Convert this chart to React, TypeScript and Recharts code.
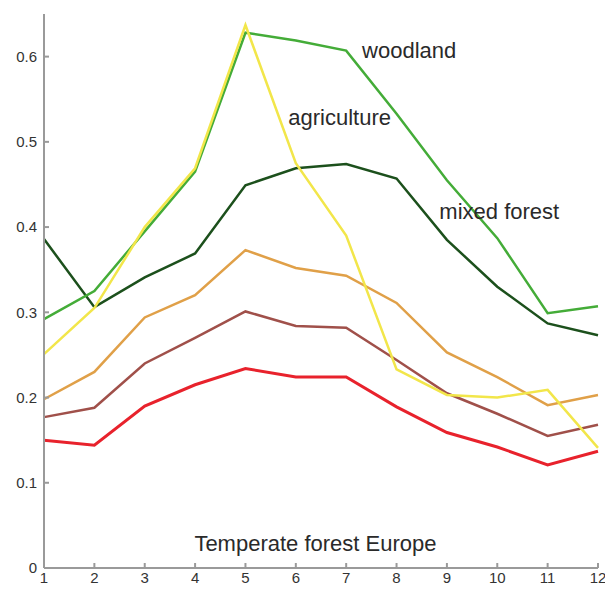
import React from "react";
import { LineChart, Line, XAxis, YAxis, ReferenceDot } from "recharts";

const months = [1, 2, 3, 4, 5, 6, 7, 8, 9, 10, 11, 12];
const woodland = [0.292, 0.325, 0.395, 0.465, 0.628, 0.619, 0.607, 0.533, 0.455, 0.387, 0.299, 0.307];
const agriculture = [0.251, 0.305, 0.4, 0.469, 0.637, 0.475, 0.39, 0.233, 0.203, 0.2, 0.209, 0.141];
const mixedForest = [0.386, 0.306, 0.341, 0.369, 0.449, 0.469, 0.474, 0.457, 0.385, 0.33, 0.287, 0.273];
const orangeSeries = [0.198, 0.23, 0.294, 0.32, 0.373, 0.352, 0.343, 0.311, 0.253, 0.224, 0.191, 0.203];
const brownSeries = [0.177, 0.188, 0.24, 0.27, 0.301, 0.284, 0.282, 0.244, 0.205, 0.181, 0.155, 0.168];
const redSeries = [0.15, 0.144, 0.19, 0.215, 0.234, 0.224, 0.224, 0.189, 0.159, 0.142, 0.121, 0.137];
const yTicks = [0, 0.1, 0.2, 0.3, 0.4, 0.5, 0.6];

const data = months.map((m, i) => ({
  m,
  woodland: woodland[i],
  agriculture: agriculture[i],
  mixed: mixedForest[i],
  orange: orangeSeries[i],
  brown: brownSeries[i],
  red: redSeries[i],
}));

const axisColor = "#9a9a9a";
const tickStyle = { fill: "#333", fontSize: 15, fontFamily: "Liberation Sans, Arial, sans-serif" };
const labelStyle = { fill: "#2a2a2a", fontSize: 22, fontFamily: "Liberation Sans, Arial, sans-serif" };

const TextLabel = (text: string) => (props: any) => {
  const { viewBox } = props;
  const cx = viewBox.x + viewBox.width / 2;
  const cy = viewBox.y + viewBox.height / 2;
  return (
    <text x={cx} y={cy} textAnchor="middle" dominantBaseline="central" {...labelStyle}>
      {text}
    </text>
  );
};

export default function App() {
  return (
    <div style={{ position: "absolute", left: 0, top: 0, width: 605, height: 592, background: "#fff" }}>
      <LineChart width={605} height={592} data={data} margin={{ top: 14, right: 7, bottom: 0, left: 0 }}>
        <XAxis
          dataKey="m"
          type="number"
          domain={[1, 12]}
          ticks={months}
          interval={0}
          height={24}
          stroke={axisColor}
          strokeWidth={2}
          tickSize={-5}
          tickMargin={9}
          tick={tickStyle}
        />
        <XAxis
          xAxisId="top"
          orientation="top"
          dataKey="m"
          type="number"
          domain={[1, 12]}
          ticks={months}
          height={0}
          stroke={axisColor}
          strokeWidth={2}
          tickSize={-5}
          tick={false}
        />
        <YAxis
          type="number"
          domain={[0, 0.65]}
          ticks={yTicks}
          interval={0}
          width={44}
          stroke={axisColor}
          strokeWidth={2}
          tickSize={-5}
          tickMargin={12}
          tick={tickStyle}
          tickFormatter={(v: number) => (v === 0 ? "0" : String(v))}
        />
        <YAxis
          yAxisId="right"
          orientation="right"
          type="number"
          domain={[0, 0.65]}
          ticks={yTicks}
          width={0}
          stroke={axisColor}
          strokeWidth={2}
          tickSize={-5}
          tick={false}
        />
        <Line dataKey="red" stroke="#e8222c" strokeWidth={3} dot={false} isAnimationActive={false} />
        <Line dataKey="brown" stroke="#a0504a" strokeWidth={2.5} dot={false} isAnimationActive={false} />
        <Line dataKey="orange" stroke="#e0a048" strokeWidth={2.5} dot={false} isAnimationActive={false} />
        <Line dataKey="mixed" stroke="#1c501c" strokeWidth={2.5} dot={false} isAnimationActive={false} />
        <Line dataKey="woodland" stroke="#44ac38" strokeWidth={2.5} dot={false} isAnimationActive={false} />
        <Line dataKey="agriculture" stroke="#f2e64a" strokeWidth={2.5} dot={false} isAnimationActive={false} />
        <ReferenceDot x={8.25} y={0.607} r={1} fill="none" stroke="none" label={TextLabel("woodland")} />
        <ReferenceDot x={6.87} y={0.529} r={1} fill="none" stroke="none" label={TextLabel("agriculture")} />
        <ReferenceDot x={10.04} y={0.418} r={1} fill="none" stroke="none" label={TextLabel("mixed forest")} />
        <ReferenceDot x={6.39} y={0.029} r={1} fill="none" stroke="none" label={TextLabel("Temperate forest Europe")} />
      </LineChart>
    </div>
  );
}
